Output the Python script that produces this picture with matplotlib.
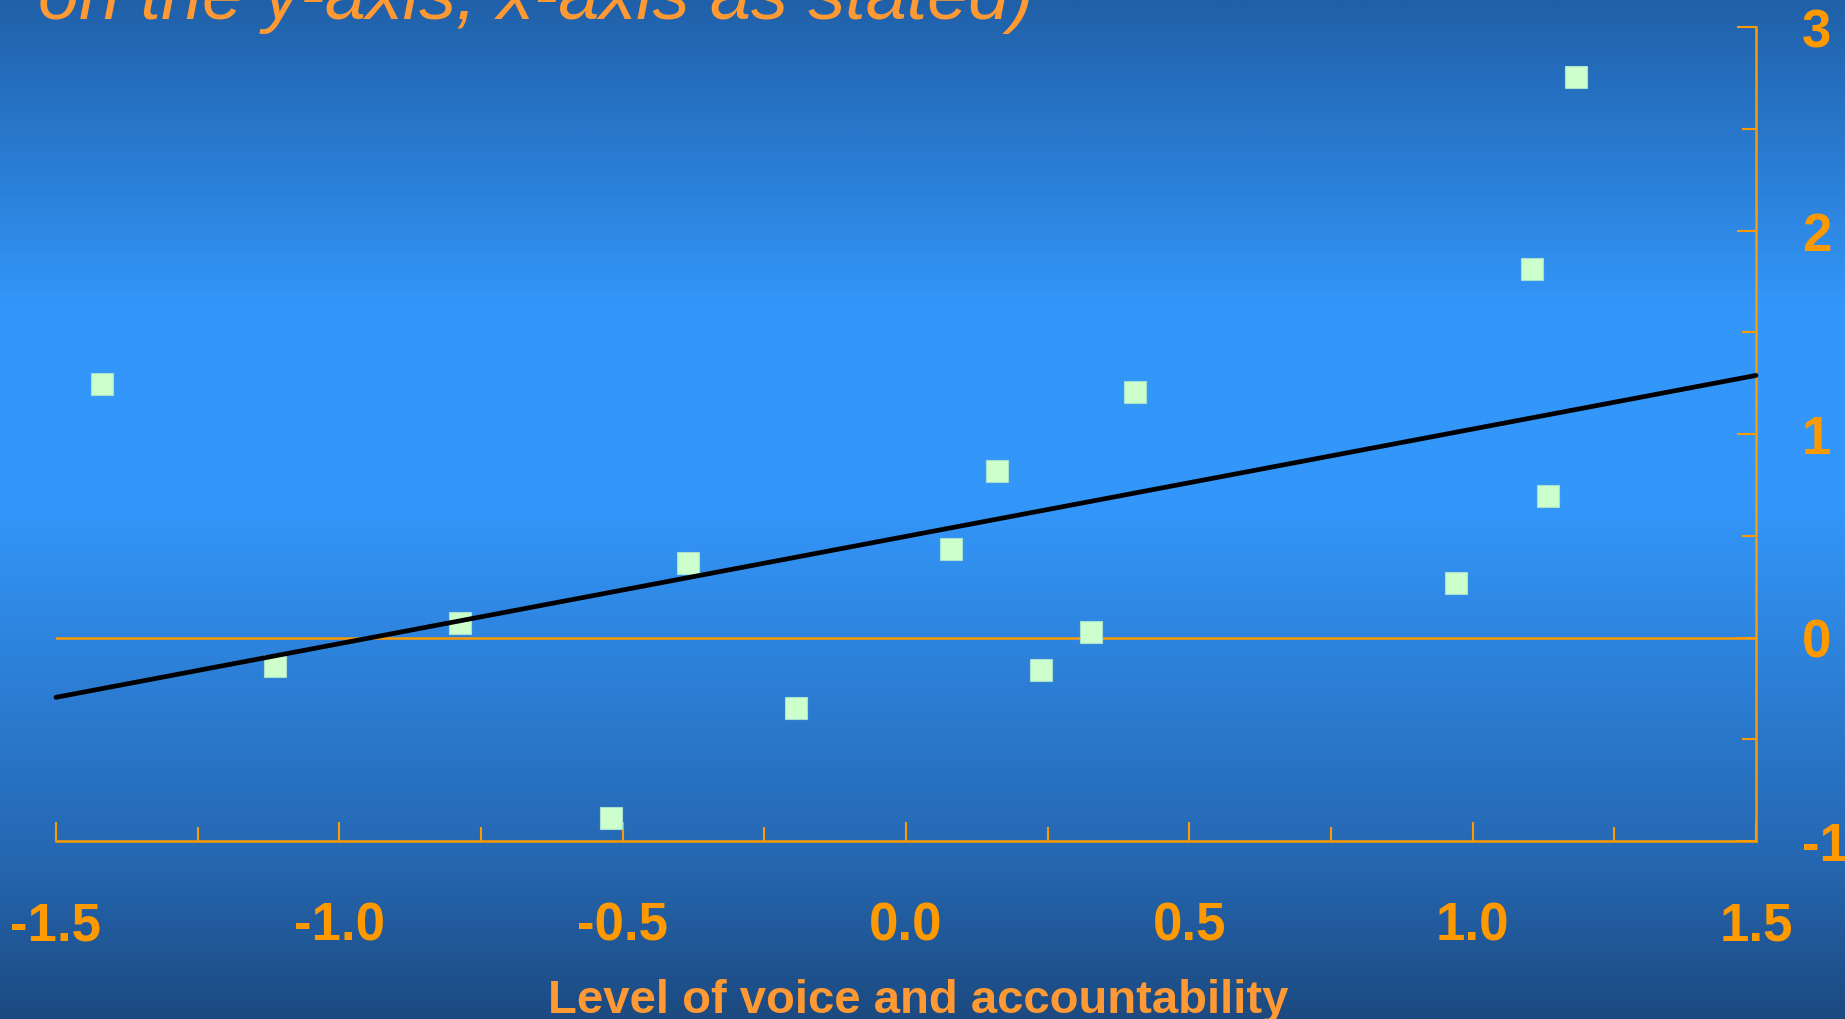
import numpy as np
import matplotlib
matplotlib.use("Agg")
import matplotlib.pyplot as plt
from matplotlib.colors import LinearSegmentedColormap
from matplotlib.ticker import MultipleLocator, FormatStrFormatter

plt.rcParams['font.family'] = ['Liberation Sans', 'DejaVu Sans']
plt.rcParams['axes.unicode_minus'] = False

# data
voice = [-1.418, -1.113, -0.787, -0.521, -0.384, -0.195, 0.079, 0.160,
         0.238, 0.326, 0.404, 0.971, 1.104, 1.133, 1.183]
growth = [1.247, -0.139, 0.069, -0.889, 0.364, -0.346, 0.433, 0.820,
          -0.162, 0.029, 1.207, 0.266, 1.813, 0.693, 2.754]
fit_x = [-1.5, 1.5]
fit_y = [-0.294, 1.288]

title_txt = "on the y-axis, x-axis as stated)"
xlabel_txt = "Level of voice and accountability"

orange = '#FF9900'
label_orange = '#FF9933'

fig = plt.figure(figsize=(18.45, 10.2), dpi=100)

# background gradient (dark - bright - dark)
bg = fig.add_axes([0, 0, 1, 1])
cmap = LinearSegmentedColormap.from_list('bg', [
    (0.0, '#2060A8'),
    (0.30, '#3396F9'),
    (0.50, '#3396F9'),
    (0.85, '#2566B0'),
    (1.0, '#1C4A80'),
])
grad = np.linspace(0, 1, 512).reshape(-1, 1)
bg.imshow(grad, aspect='auto', cmap=cmap, extent=[0, 1, 0, 1], origin='upper')
bg.axis('off')

ax = fig.add_axes([56/1845, 1 - 842/1020, (1756 - 56)/1845, (842 - 28)/1020])
ax.patch.set_alpha(0)

ax.plot([-1.5, 1.5], [0, 0], color=orange, lw=1.8, zorder=1)
ax.plot(voice, growth, 's', color='#CCFFCC', markersize=15.8,
        markeredgecolor='#a8e0d0', markeredgewidth=0.8, zorder=2, clip_on=False)
ax.plot(fit_x, fit_y, color='black', lw=3.4, solid_capstyle='round', zorder=3,
        clip_on=False)

ax.set_xlim(-1.5, 1.5)
ax.set_ylim(-1, 3)

for s in ['left', 'top']:
    ax.spines[s].set_visible(False)
for s in ['bottom', 'right']:
    ax.spines[s].set_color(orange)
    ax.spines[s].set_linewidth(1.8)

ax.yaxis.tick_right()
ax.xaxis.set_major_locator(MultipleLocator(0.5))
ax.xaxis.set_minor_locator(MultipleLocator(0.25))
ax.yaxis.set_major_locator(MultipleLocator(1))
ax.yaxis.set_minor_locator(MultipleLocator(0.5))
ax.xaxis.set_major_formatter(FormatStrFormatter('%.1f'))
ax.yaxis.set_major_formatter(FormatStrFormatter('%d'))

ax.tick_params(axis='both', which='both', direction='in', color=orange, width=1.5)
ax.tick_params(axis='both', which='major', length=13.7)
ax.tick_params(axis='both', which='minor', length=10)
ax.tick_params(axis='x', which='major', pad=43)
ax.tick_params(axis='y', which='major', pad=33)

for lab in ax.get_xticklabels() + ax.get_yticklabels():
    lab.set_fontsize(38)
    lab.set_fontweight('bold')
    lab.set_color(orange)

fig.text(38/1845, 1 - 19/1020, title_txt, fontsize=53, style='italic',
         color=label_orange, ha='left', va='baseline')
fig.text(918/1845, 1 - 1013/1020, xlabel_txt, fontsize=34, fontweight='bold',
         color=label_orange, ha='center', va='baseline')

fig.savefig('out.png', dpi=100)
